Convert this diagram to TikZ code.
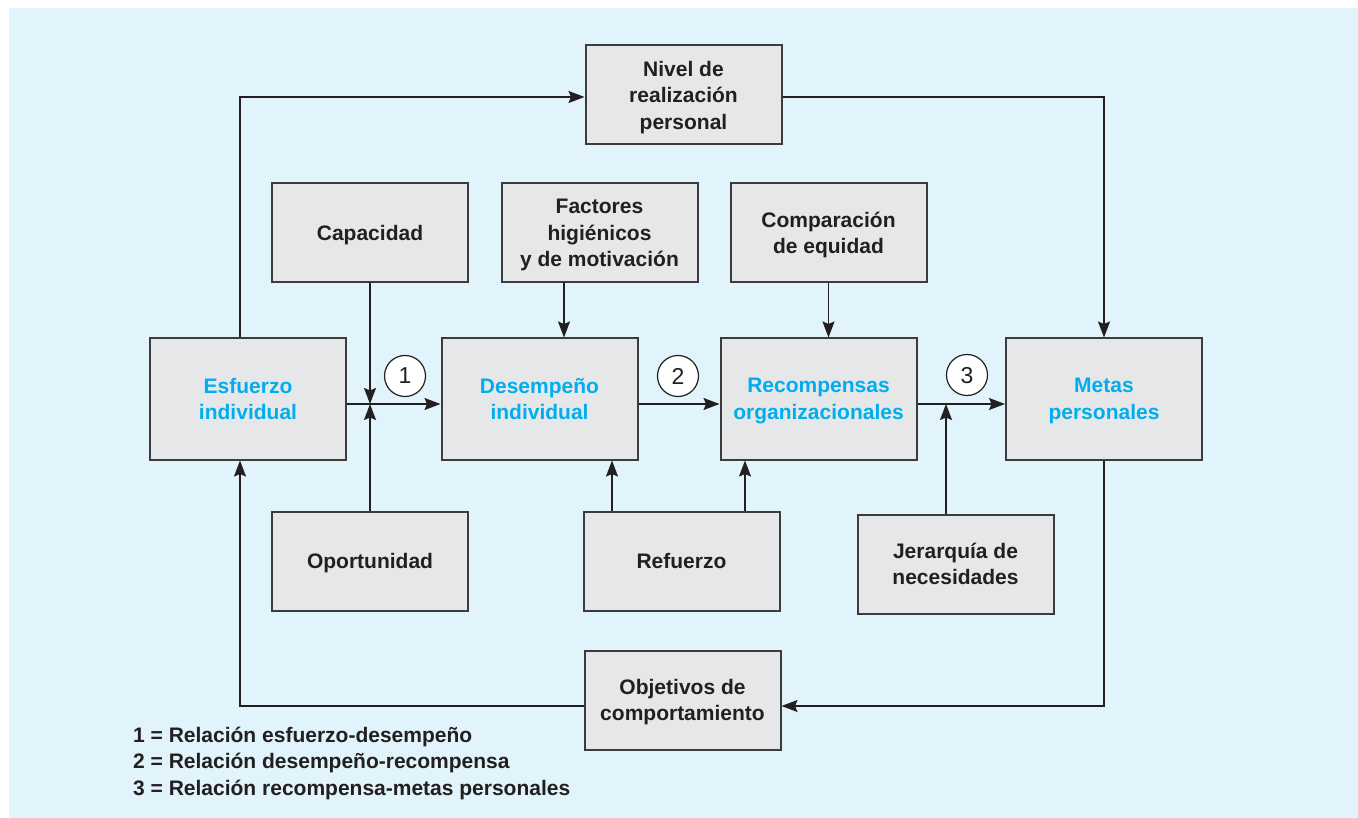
\documentclass[tikz,border=0pt]{standalone}
\usepackage{fontspec}
\setmainfont{Liberation Sans}
\usetikzlibrary{arrows.meta}
\definecolor{bg}{HTML}{E1F3FB}
\definecolor{boxfill}{HTML}{E6E7E8}
\definecolor{ink}{HTML}{231F20}
\definecolor{blu}{HTML}{00AEEF}
\definecolor{edge}{HTML}{3C3C3C}
\begin{document}
\begin{tikzpicture}[x=1pt,y=-1pt,
 box/.style={draw=edge, line width=2pt, fill=boxfill, minimum width=196pt, minimum height=99pt, inner sep=0pt, align=center, text depth=0pt, font=\fontsize{21}{26.5}\selectfont\bfseries, text=ink},
 big/.style={box, minimum height=121pt, text=blu},
 arr/.style={draw=ink, line width=1.4pt, -{Stealth[length=16pt,width=12pt,inset=2.5pt]}},
 num/.style={circle, draw=ink, fill=white, line width=1.2pt, minimum size=41pt, inner sep=0pt, text depth=0pt, font=\fontsize{23}{23}\selectfont, text=ink},
 legend/.style={anchor=base west, inner sep=0pt, font=\fontsize{21}{26}\selectfont\bfseries, text=ink},
]
\fill[bg] (9,8) rectangle (1358,818);
\useasboundingbox (0,0) rectangle (1358,818);

\node[big] (esf) at (248,399) {Esfuerzo\\individual};
\node[big] (des) at (539.5,399) {Desempeño\\individual};
\node[big] (rec) at (818.5,399) {Recompensas\\organizacionales};
\node[big] (met) at (1104,399) {Metas\\personales};
\node[box] (niv) at (683.5,95) {Nivel de\\realización\\personal};
\node[box] (cap) at (370,233) {Capacidad};
\node[box] (fac) at (599.5,233) {Factores\\higiénicos\\y de motivación};
\node[box] (com) at (828.5,233) {Comparación\\de equidad};
\node[box] (opo) at (370,561) {Oportunidad};
\node[box] (ref) at (681.5,561) {Refuerzo};
\node[box] (jer) at (955.5,564) {Jerarquía de\\necesidades};
\node[box] (obj) at (682.5,700) {Objetivos de\\comportamiento};

\coordinate (l1) at ([yshift=-5pt]esf.east);
\coordinate (l3) at ([yshift=-5pt]rec.east);

\draw[arr] ([xshift=-8pt]esf.north) |- ([yshift=-2pt]niv.west);
\draw[arr] ([yshift=-2pt]niv.east) -| (met.north);
\draw[arr] (l1) -- ([yshift=-5pt]des.west);
\draw[arr] (cap.south) -- (cap.south |- l1);
\draw[arr] (opo.north) -- (opo.north |- l1);
\draw[arr] ([xshift=-35.5pt]fac.south) -- ([xshift=-35.5pt]fac.south |- des.north);
\draw[arr] ([yshift=-5pt]des.east) -- ([yshift=-5pt]rec.west);
\draw[arr] (com.south) -- (com.south |- rec.north);
\draw[arr] ([xshift=-69.5pt]ref.north) -- ([xshift=-69.5pt]ref.north |- des.south);
\draw[arr] ([xshift=63.5pt]ref.north) -- ([xshift=63.5pt]ref.north |- rec.south);
\draw[arr] (l3) -- ([yshift=-5pt]met.west);
\draw[arr] ([xshift=-9.5pt]jer.north) -- ([xshift=-9.5pt]jer.north |- l3);
\draw[arr] (met.south) |- ([yshift=-6pt]obj.east);
\draw[arr] ([yshift=-6pt]obj.west) -| ([xshift=-8pt]esf.south);

\node[num] (c1) at (405,376) {1};
\node[num] (c2) at (678,376) {2};
\node[num] (c3) at (967,375) {3};

\node[legend] (lg1) at (133,742) {1 = Relación esfuerzo-desempeño};
\node[legend] (lg2) at (133,768.5) {2 = Relación desempeño-recompensa};
\node[legend] (lg3) at (133,795) {3 = Relación recompensa-metas personales};
\end{tikzpicture}
\end{document}
